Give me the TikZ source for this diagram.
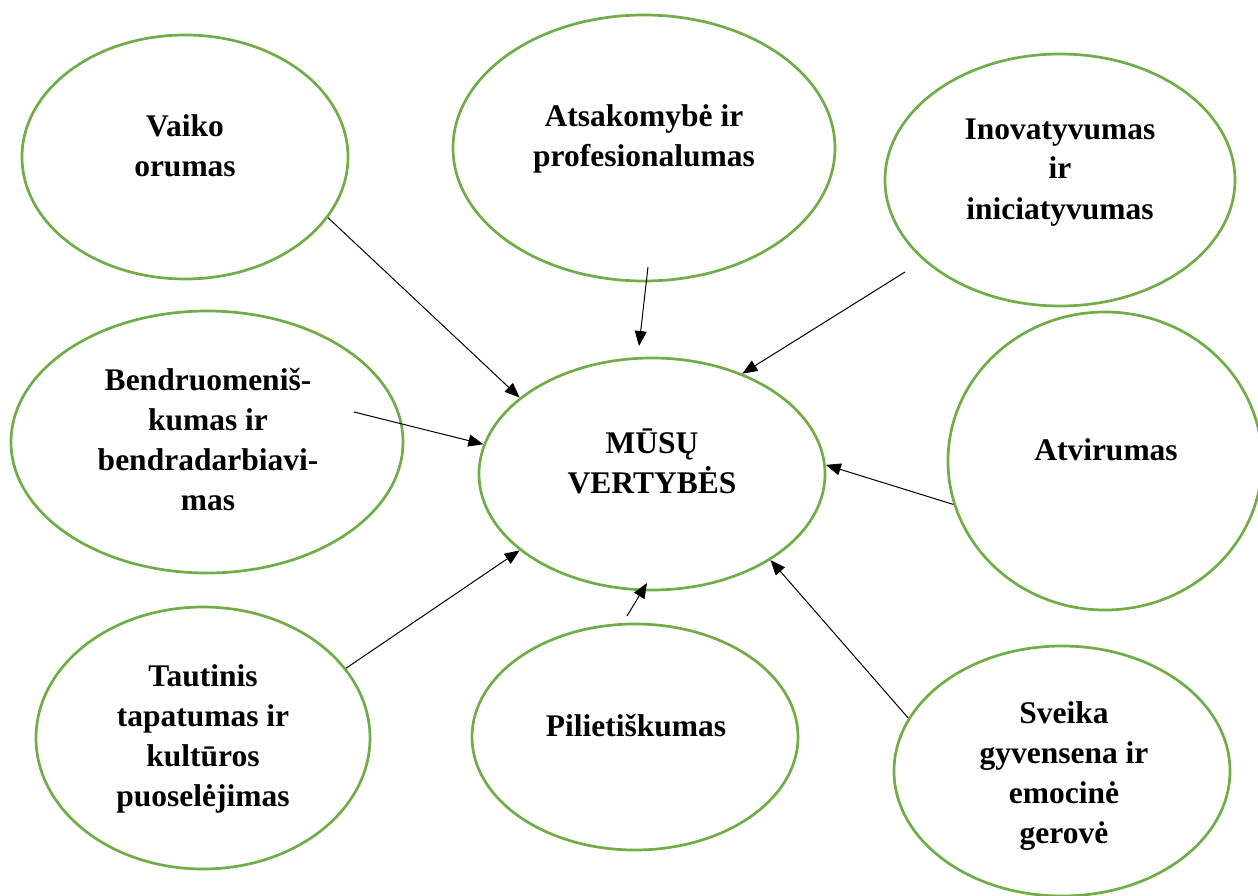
\documentclass[tikz,border=0pt]{standalone}
\usepackage{fontspec}
\setmainfont{Liberation Serif}
\usetikzlibrary{arrows.meta,shapes.geometric}
\definecolor{val_green}{RGB}{112,173,71}

\begin{document}
\begin{tikzpicture}[x=1pt,y=-1pt,->,>={Triangle[length=15pt,width=12pt]},line width=1pt]
    \tikzstyle{val}=[draw=val_green, line width=2.7pt, ellipse, inner sep=0pt]
    \tikzstyle{txt}=[align=center, anchor=base, inner sep=0pt, font=\fontsize{31.5}{40}\selectfont\bfseries]
    \useasboundingbox (0,0) rectangle (1258,896);

    \node[val, minimum width=326pt, minimum height=244pt] (vaiko)  at (185,157)  {};
    \node[val, minimum width=382pt, minimum height=266pt] (atsak)  at (644,148)  {};
    \node[val, minimum width=350pt, minimum height=252pt] (inov)   at (1060,180) {};
    \node[val, minimum width=392pt, minimum height=262pt] (bendr)  at (207,442)  {};
    \node[val, minimum width=346pt, minimum height=232pt] (musu)   at (652,474)  {};
    \node[val, minimum width=314pt, minimum height=298pt] (atvir)  at (1105,461) {};
    \node[val, minimum width=334pt, minimum height=262pt] (taut)   at (203,738)  {};
    \node[val, minimum width=326pt, minimum height=226pt] (pil)    at (635,737)  {};
    \node[val, minimum width=336pt, minimum height=250pt] (sveika) at (1062,771) {};

    % text sits on the baseline of its last line
    \node[txt] (vaikoT)  at (185,177)  {Vaiko\\orumas};
    \node[txt] (atsakT)  at (644,167)  {Atsakomybė ir\\profesionalumas};
    \node[txt] (inovT)   at (1060,219) {Inovatyvumas\\ir\\iniciatyvumas};
    \node[txt] (bendrT)  at (208,510)  {Bendruomeniš-\\kumas ir\\bendradarbiavi-\\mas};
    \node[txt] (musuT)   at (652,493)  {MŪSŲ\\VERTYBĖS};
    \node[txt] (atvirT)  at (1106,460) {Atvirumas};
    \node[txt] (tautT)   at (203,806)  {Tautinis\\tapatumas ir\\kultūros\\puoselėjimas};
    \node[txt] (pilT)    at (636,736)  {Pilietiškumas};
    \node[txt] (sveikaT) at (1064,843) {Sveika\\gyvensena ir\\emocinė\\gerovė};

    % loose arrow ends
    \coordinate (atsakOut) at (648,267);
    \coordinate (musuTop)  at (639,346);
    \coordinate (inovOut)  at (905,272);
    \coordinate (bendrOut) at (354,412);
    \coordinate (pilOut)   at (627,616);
    \coordinate (musuLow)  at (647,583);

    \path
     (vaiko.-23)  edge (musu.150)
     (atsakOut)   edge (musuTop)
     (inovOut)    edge (musu.48)
     (bendrOut)   edge (musu.170)
     (atvir.196)  edge (musu.3)
     (taut.26)    edge (musu.210)
     (pilOut)     edge (musuLow)
     (sveika.161) edge (musu.-36)
     ;
\end{tikzpicture}
\end{document}
